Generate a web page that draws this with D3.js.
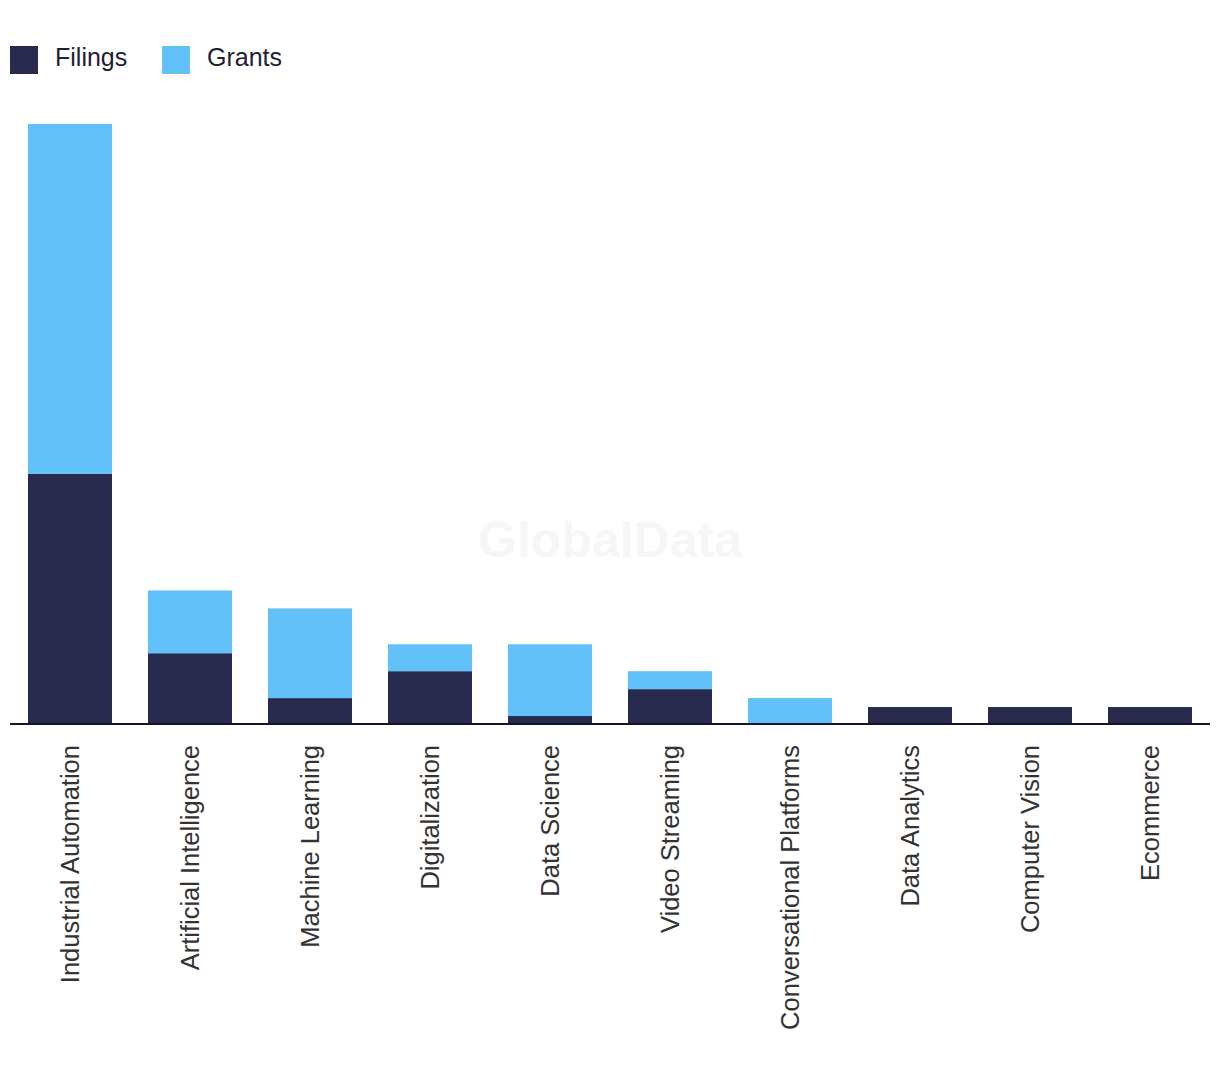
<!DOCTYPE html>
<html>
<head>
<meta charset="utf-8">
<script src="https://cdn.jsdelivr.net/npm/d3@7"></script>
<style>
  body { margin: 0; background: #fff; }
  svg { display: block; }
</style>
</head>
<body>
<div id="chart"></div>
<script>
const categories = ["Industrial Automation", "Artificial Intelligence", "Machine Learning", "Digitalization",
    "Data Science", "Video Streaming", "Conversational Platforms", "Data Analytics", "Computer Vision", "Ecommerce"];
const filings = [28, 8, 3, 6, 1, 4, 0, 2, 2, 2];
const grants = [39, 7, 10, 3, 8, 2, 3, 0, 0, 0];
const seriesNames = ["Filings", "Grants"];
const colors = ["#27294d", "#62c1f8"];

const width = 1220, height = 1080;

const svg = d3.select("#chart")
.append("svg")
.attr("width", width)
.attr("height", height);

// watermark
svg.append("text")
    .attr("x", 610)
    .attr("y", 557)
    .attr("text-anchor", "middle")
    .attr("font-family", "Liberation Sans, Arial, sans-serif")
    .attr("font-weight", "bold")
    .attr("font-size", 50)
    .attr("fill", "#f6f6f6")
    .text("GlobalData");

const xScale = d3.scaleBand()
    .domain(categories)
    .range([10, 1210])
    .paddingInner(0.3)
    .paddingOuter(0.15);

const yScale = d3.scaleLinear()
    .domain([0, 67])
    .range([725, 124]);

let rows = categories.map((c, i) => ({ cat: c, Filings: filings[i], Grants: grants[i] }));
const stacked = d3.stack().keys(seriesNames)(rows);

svg.selectAll(".series")
    .data(stacked)
    .join("g")
    .attr("class", "series")
    .attr("fill", (d, i) => colors[i])
    .selectAll("rect")
    .data(d => d.filter(p => p[1] > p[0]))
    .join("rect")
    .attr("x", d => xScale(d.data.cat))
    .attr("y", d => yScale(d[1]))
    .attr("width", xScale.bandwidth())
    .attr("height", d => yScale(d[0]) - yScale(d[1]));

// x axis
const xAxis = svg.append("g")
    .attr("transform", "translate(0,723)")
    .call(d3.axisBottom(xScale).tickSize(0).tickSizeOuter(0));

xAxis.select(".domain")
    .attr("stroke", "#14142a")
    .attr("stroke-width", 2)
    .attr("d", "M10,1H1210");

xAxis.selectAll("text")
    .attr("font-family", "Liberation Sans, Arial, sans-serif")
    .attr("font-size", 25.5)
    .attr("fill", "#333")
    .attr("text-anchor", "end")
    .attr("transform", "rotate(-90)")
    .attr("x", -22)
    .attr("y", 0)
    .attr("dy", "0.36em");

// legend
const legend = svg.append("g");
const legendX = [10, 162];
seriesNames.forEach((name, i) => {
    legend.append("rect")
        .attr("x", legendX[i])
        .attr("y", 46)
        .attr("width", 28)
        .attr("height", 28)
        .attr("fill", colors[i]);
    legend.append("text")
        .attr("x", legendX[i] + 45)
        .attr("y", 66)
        .attr("font-family", "Liberation Sans, Arial, sans-serif")
        .attr("font-size", 25)
        .attr("fill", "#1f2035")
        .text(name);
});
</script>
</body>
</html>
